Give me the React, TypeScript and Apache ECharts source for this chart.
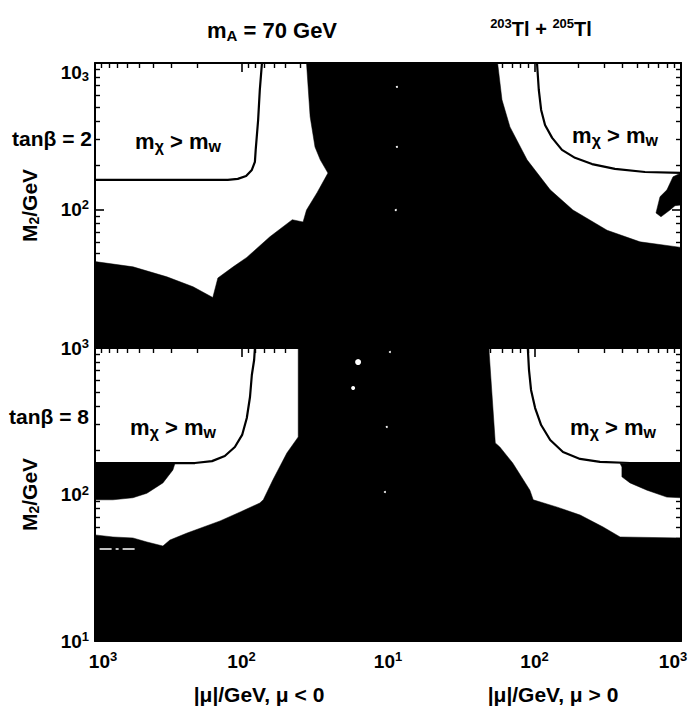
import { useEffect, useRef } from "react";
import * as echarts from "echarts";

// Points are [mu, M2] in GeV; mu is signed (negative for mu < 0).
type Pt = [number, number];

// ---- tan(beta) = 2 panel ----
// Edge of the excluded (black) region, left half: from the top edge down to the left edge
const tb2ExclusionLeft: Pt[] = [
  [-36, 1000], [-34, 430], [-31.5, 267], [-29, 218], [-25.7, 177], [-30.5, 130],
  [-36, 99], [-38, 82], [-45, 85], [-64, 65], [-92, 47], [-114, 40.5], [-145, 34],
  [-157, 25], [-214, 29.6], [-323, 34.6], [-550, 40.5], [-1000, 44],
];
// Edge of the excluded region, right half: from the right edge up to the top edge
const tb2ExclusionRight: Pt[] = [
  [1000, 55], [525, 60], [313, 72], [183, 99], [128, 136], [89, 218], [68, 366], [60, 560], [56, 1000],
];
// Small excluded island at large positive mu
const tb2Island: Pt[] = [
  [1000, 177.5], [882, 167], [802, 136], [719, 122], [675, 94.6], [730, 89], [841, 99], [910, 106], [1000, 107],
];
// m_chi = m_W contours
const tb2CharginoLeft: Pt[] = [
  [-1000, 159], [-192, 159], [-124, 159], [-106, 161.5], [-93, 169], [-85, 186], [-81, 211],
  [-80, 255], [-77, 408], [-75, 654], [-72.5, 1000],
];
const tb2CharginoRight: Pt[] = [
  [104, 1000], [107, 654], [111, 478], [118, 377], [132, 308], [154, 255], [189, 225],
  [247, 204], [354, 189], [568, 180], [1000, 177.5],
];
// Isolated allowed scan points inside the excluded band: [mu, M2, marker size]
const tb2AllowedPoints: [number, number, number][] = [
  [11.5, 686, 2], [11.5, 267, 2], [11.3, 99, 2],
];

// ---- tan(beta) = 8 panel ----
const tb8ExclusionLeft: Pt[] = [
  [-41, 1000], [-41, 247], [-49, 192], [-61, 126], [-71, 92], [-75, 87.5], [-102, 76],
  [-140, 66], [-235, 54.6], [-308, 48.9], [-344, 44.5], [-442, 47.4], [-551, 50.5],
  [-754, 51.3], [-1000, 53],
];
const tb8ExclusionRight: Pt[] = [
  [1000, 50.5], [384, 51.3], [294, 60], [205, 72.4], [143, 82], [98, 92], [93, 107],
  [71, 164], [58, 211], [54, 225], [49, 940], [49, 1000],
];
const tb8WedgeLeft: Pt[] = [
  [-1000, 164], [-284, 164], [-294, 147], [-344, 120], [-442, 102], [-551, 95], [-754, 92], [-1000, 92],
];
const tb8WedgeRight: Pt[] = [
  [384, 163], [1000, 163], [1000, 95], [800, 96], [586, 107], [449, 120], [395, 132], [395, 154],
];
const tb8CharginoLeft: Pt[] = [
  [-1000, 164], [-208, 164], [-159, 169], [-130, 183], [-111, 211], [-99, 255], [-92, 333],
  [-87.5, 463], [-85, 654], [-82, 828], [-81, 1000],
];
const tb8CharginoRight: Pt[] = [
  [90, 1000], [91.7, 708], [94.7, 517], [101, 389], [111, 298], [128, 235.5], [156.5, 195],
  [204.5, 175], [280, 167], [449, 164], [1000, 164],
];
const tb8AllowedPoints: [number, number, number][] = [
  [-16, 802, 6], [-17.3, 533, 4], [10.3, 939, 2], [-10.2, 289, 2], [-10.5, 104, 2],
];
// Short allowed streak inside the low-M2 excluded area
const tb8AllowedStreak: Pt[] = [[-930, 42.5], [-530, 42.5]];

// Axis ranges and tick marks
const MU_MAX = 1000;
const M2_FLOOR = 10;
const M2_MAX = 1000;
const TOP_PANEL_M2_MIN = 11.3; // upper panel is cut off by the lower one
const muMajorTicks = [-1000, -100, 10, 100, 1000];
const m2MajorTicks = [10, 100, 1000];
const minorMultipliers = [2, 3, 4, 5, 6, 7, 8, 9];
const minorDecades = [10, 100];

const FONT = "'Liberation Sans', Arial, Helvetica, sans-serif";

// Folded log axis: |mu| = 1000 -> 0, 10 -> 2 (both signs), +1000 -> 4
const U = (mu: number) => (mu < 0 ? 3 - Math.log10(-mu) : 1 + Math.log10(mu));
const V = (m2: number) => Math.log10(m2);
const toXY = (p: Pt) => [U(p[0]), V(p[1])];

const xMajor = muMajorTicks.map(U);
const xMinor: number[] = [];
minorDecades.forEach((d) =>
  minorMultipliers.forEach((k) => {
    xMinor.push(U(-k * d));
    xMinor.push(U(k * d));
  })
);
const yMajor = m2MajorTicks.map(V);
const yMinor: number[] = [];
minorDecades.forEach((d) => minorMultipliers.forEach((k) => yMinor.push(V(k * d))));

const txt = (size: number, extra: Record<string, unknown> = {}) => ({
  fontSize: size,
  fontFamily: FONT,
  fontWeight: "bold",
  color: "#000",
  ...extra,
});

const tickRich = {
  b: txt(19, { lineHeight: 22 }),
  s: txt(13, { lineHeight: 13, verticalAlign: "top" }),
  gap: { width: 16 },
  bd: txt(19, { lineHeight: 22, padding: [18, 0, 0, 0] }),
  sd: txt(13, { lineHeight: 13, verticalAlign: "top", padding: [18, 0, 0, 0] }),
};

const xLabel = (u: number) => {
  const e = Math.round(u <= 2 ? 3 - u : u - 1);
  const core = `{b|10}{s|${e}}`;
  if (u < 0.5) return `{gap| }${core}`;
  if (u > 3.5) return `${core}{gap| }`;
  return core;
};

const frameLine = { show: true, onZero: false, lineStyle: { color: "#000", width: 2 } };
const majorTick = (vals: number[]) => ({
  show: true,
  inside: true,
  length: 9,
  customValues: vals,
  lineStyle: { color: "#000", width: 1.6 },
});
const minorTick = (vals: number[]) => ({
  show: true,
  inside: true,
  length: 5,
  customValues: vals,
  lineStyle: { color: "#000", width: 1.4 },
});

function buildXAxes(gi: number, labels: boolean) {
  const common = {
    gridIndex: gi,
    type: "value",
    min: U(-MU_MAX),
    max: U(MU_MAX),
    splitLine: { show: false },
    axisLine: { show: false, onZero: false },
    axisLabel: { show: false },
  };
  return [
    {
      ...common,
      position: "bottom",
      axisLine: frameLine,
      axisTick: majorTick(xMajor),
      axisLabel: labels
        ? { show: true, customValues: xMajor, margin: 9, formatter: xLabel, rich: tickRich }
        : { show: false },
    },
    { ...common, position: "bottom", axisTick: minorTick(xMinor) },
    { ...common, position: "top", axisLine: frameLine, axisTick: majorTick(xMajor) },
    { ...common, position: "top", axisTick: minorTick(xMinor) },
  ];
}

function buildYAxes(gi: number, minM2: number, isTop: boolean) {
  const common = {
    gridIndex: gi,
    type: "value",
    min: V(minM2),
    max: V(M2_MAX),
    splitLine: { show: false },
    axisLine: { show: false, onZero: false },
    axisLabel: { show: false },
  };
  const inRange = (vals: number[]) => vals.filter((v) => v >= V(minM2) - 1e-9);
  return [
    {
      ...common,
      position: "left",
      axisLine: frameLine,
      axisTick: majorTick(inRange(yMajor)),
      axisLabel: {
        show: true,
        customValues: inRange(yMajor),
        margin: 6,
        rich: tickRich,
        formatter: (v: number) => {
          const e = Math.round(v);
          return isTop && e === 3 ? `{bd|10}{sd|${e}}` : `{b|10}{s|${e}}`;
        },
      },
      name: "{b|M}{sub|2}{b|/GeV}",
      nameLocation: "middle",
      nameRotate: 90,
      nameGap: 54,
      nameTextStyle: {
        rich: {
          b: txt(21, { lineHeight: 24 }),
          sub: txt(14, { lineHeight: 14, verticalAlign: "bottom" }),
        },
      },
    },
    { ...common, position: "left", axisTick: minorTick(inRange(yMinor)) },
    { ...common, position: "right", axisLine: frameLine, axisTick: majorTick(inRange(yMajor)) },
    { ...common, position: "right", axisTick: minorTick(inRange(yMinor)) },
  ];
}

function regionSeries(gi: number, regions: Pt[][]) {
  return {
    type: "custom",
    coordinateSystem: "cartesian2d",
    xAxisIndex: gi * 4,
    yAxisIndex: gi * 4,
    clip: true,
    silent: true,
    z: 3,
    data: regions.map((r, i) => [...toXY(r[0]), i]),
    renderItem: (params: any, api: any) => {
      const pts = regions[params.dataIndex].map((p) => api.coord(toXY(p)));
      return { type: "polygon", shape: { points: pts }, style: { fill: "#000", stroke: "#000", lineWidth: 0.5 } };
    },
  };
}

function contourSeries(gi: number, pts: Pt[], color = "#000", type: any = "solid", width = 2.2) {
  return {
    type: "line",
    xAxisIndex: gi * 4,
    yAxisIndex: gi * 4,
    data: pts.map(toXY),
    showSymbol: false,
    symbol: "none",
    clip: true,
    silent: true,
    z: 4,
    lineStyle: { color, width, type },
  };
}

function pointSeries(gi: number, pts: [number, number, number][]) {
  return {
    type: "scatter",
    xAxisIndex: gi * 4,
    yAxisIndex: gi * 4,
    data: pts.map(([mu, m2, size]) => [U(mu), V(m2), size]),
    symbol: "circle",
    symbolSize: (val: number[]) => val[2],
    itemStyle: { color: "#fff", opacity: 1 },
    silent: true,
    z: 5,
  };
}

const chiLabel = (x: number, y: number) => ({
  type: "text",
  x,
  y,
  style: {
    text: "{b|m}{sub|χ}{b| > m}{sub|w}",
    align: "center",
    verticalAlign: "middle",
    rich: {
      b: txt(22, { lineHeight: 26 }),
      sub: txt(16, { lineHeight: 16, verticalAlign: "bottom" }),
    },
  },
  z: 10,
});

const plainText = (x: number, y: number, text: string, size: number, align = "center") => ({
  type: "text",
  x,
  y,
  style: { text, align, verticalAlign: "middle", fontSize: size, fontFamily: FONT, fontWeight: "bold", fill: "#000" },
  z: 10,
});

function buildOption() {
  const floorLeft: Pt = [-MU_MAX, M2_FLOOR];
  const floorRight: Pt = [MU_MAX, M2_FLOOR];
  const topMain = [...tb2ExclusionLeft, floorLeft, floorRight, ...tb2ExclusionRight];
  const bottomMain = [...tb8ExclusionLeft, floorLeft, floorRight, ...tb8ExclusionRight];

  return {
    animation: false,
    backgroundColor: "#fff",
    grid: [
      { left: 95, top: 63, width: 586, height: 285, outerBoundsMode: "none" },
      { left: 95, top: 348, width: 586, height: 293, outerBoundsMode: "none" },
    ],
    xAxis: [...buildXAxes(0, false), ...buildXAxes(1, true)],
    yAxis: [...buildYAxes(0, TOP_PANEL_M2_MIN, true), ...buildYAxes(1, M2_FLOOR, false)],
    series: [
      regionSeries(0, [topMain, tb2Island]),
      regionSeries(1, [bottomMain, tb8WedgeLeft, tb8WedgeRight]),
      contourSeries(0, tb2CharginoLeft),
      contourSeries(0, tb2CharginoRight),
      contourSeries(1, tb8CharginoLeft),
      contourSeries(1, tb8CharginoRight),
      contourSeries(1, tb8AllowedStreak, "#fff", [12, 4, 3, 4], 1.5),
      pointSeries(0, tb2AllowedPoints),
      pointSeries(1, tb8AllowedPoints),
    ],
    graphic: [
      {
        type: "text",
        x: 272,
        y: 30,
        style: {
          text: "{b|m}{sub|A}{b| = 70 GeV}",
          align: "center",
          verticalAlign: "middle",
          rich: {
            b: txt(22, { lineHeight: 26 }),
            sub: txt(15, { lineHeight: 15, verticalAlign: "bottom" }),
          },
        },
      },
      {
        type: "text",
        x: 541,
        y: 29,
        style: {
          text: "{s|203}{b|Tl + }{s|205}{b|Tl}",
          align: "center",
          verticalAlign: "middle",
          rich: {
            b: txt(20, { lineHeight: 24 }),
            s: txt(13, { lineHeight: 13, verticalAlign: "top" }),
          },
        },
      },
      plainText(92, 138, "tanβ = 2", 21, "right"),
      plainText(89, 416, "tanβ = 8", 21, "right"),
      chiLabel(178, 141),
      chiLabel(615, 135),
      chiLabel(173, 427),
      chiLabel(613, 427),
      plainText(259, 694, "|μ|/GeV, μ < 0", 21),
      plainText(553, 694, "|μ|/GeV, μ > 0", 21),
    ],
  };
}

export default function App() {
  const ref = useRef<HTMLDivElement>(null);
  useEffect(() => {
    if (!ref.current) return;
    const chart = echarts.init(ref.current, undefined, { renderer: "svg" });
    chart.setOption(buildOption() as any);
    return () => chart.dispose();
  }, []);
  return (
    <div
      ref={ref}
      style={{ position: "absolute", left: 0, top: 0, width: 690, height: 714, background: "#fff" }}
    />
  );
}
